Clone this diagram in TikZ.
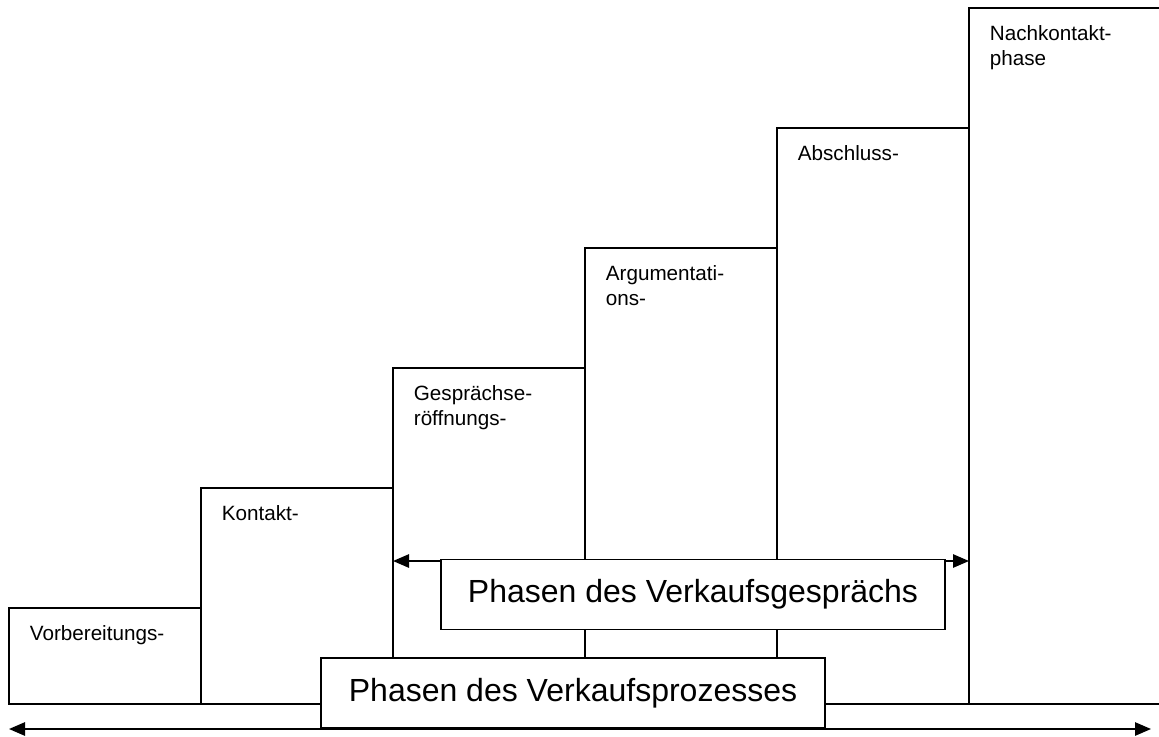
\documentclass[tikz,border=0pt]{standalone}
\usepackage{fontspec}
\setmainfont{Liberation Sans}
\usetikzlibrary{arrows.meta}

\begin{document}
\begin{tikzpicture}[x=0.75pt, y=-0.75pt, line width=1.3pt,
   stufe/.style={draw=black},
   stufentext/.style={anchor=north west, inner sep=0pt, align=left,
             font=\fontsize{15.5pt}{18.5pt}\selectfont},
   phasenbox/.style={draw=black, fill=white, inner sep=0pt,
             minimum width=378pt, minimum height=52.5pt,
             font=\fontsize{24pt}{28pt}\selectfont},
   pfeil/.style={{Triangle[length=12pt,width=10pt]}-{Triangle[length=12pt,width=10pt]}}]

  \useasboundingbox (0,0) rectangle (1159,736);

  % ===== Treppe =====
  \draw[stufe] (9,608) rectangle (201,704);
  \draw[stufe] (201,488) rectangle (393,704);
  \draw[stufe] (393,368) rectangle (585,704);
  \draw[stufe] (585,248) rectangle (777,704);
  \draw[stufe] (777,128) rectangle (969,704);
  \draw[stufe] (969,8) rectangle (1175,704);

  \coordinate (links) at (9,729);
  \coordinate (rechts) at (1151,729);
  \coordinate (gespraechlinks) at (393,561);
  \coordinate (gespraechrechts) at (969,561);

  % ===== Beschriftung der Stufen =====
  \node[stufentext] (vorbereitung) at (29,624.5) {Vorbereitungs-};
  \node[stufentext] (kontakt) at (221,504.5) {Kontakt-};
  \node[stufentext] (eroeffnung) at (413,384.5) {Gesprächse-\\röffnungs-};
  \node[stufentext] (argumentation) at (605,264.5) {Argumentati-\\ons-};
  \node[stufentext] (abschluss) at (797,144.5) {Abschluss-};
  \node[stufentext] (nachkontakt) at (989,24.5) {Nachkontakt-\\phase};

  % ===== Pfeile =====
  \draw[pfeil] (gespraechlinks) -- (gespraechrechts);
  \draw[pfeil] (links) -- (rechts);

  % ===== Phasen =====
  \node[phasenbox] (prozess) at (573,693) {Phasen des Verkaufsprozesses};
  \node[phasenbox] (gespraech) at (693,594.5) {Phasen des Verkaufsgesprächs};

\end{tikzpicture}
\end{document}
